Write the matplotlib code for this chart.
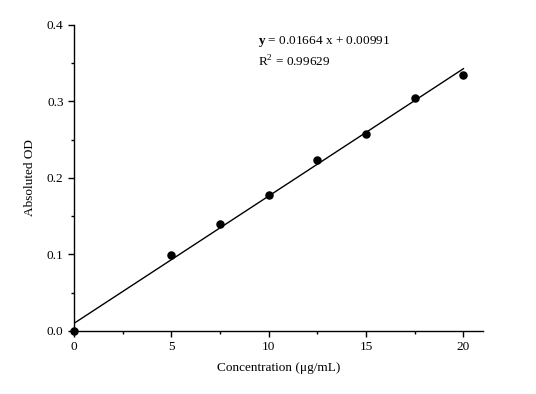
import numpy as np
import matplotlib.pyplot as plt
from matplotlib.ticker import MultipleLocator

# Standard curve data
conc = [0, 5, 7.5, 10, 12.5, 15, 17.5, 20]
od = [0.0, 0.099, 0.140, 0.177, 0.223, 0.258, 0.304, 0.334]

# Linear fit reported on the chart
slope = 0.01664
intercept = 0.00991
r2 = 0.99629

plt.rcParams['font.family'] = ['Liberation Serif', 'DejaVu Serif']
plt.rcParams['mathtext.fontset'] = 'custom'
plt.rcParams['mathtext.rm'] = 'Liberation Serif'
plt.rcParams['mathtext.bf'] = 'Liberation Serif:bold'

fig = plt.figure(figsize=(5.36, 3.94), dpi=100)
ax = fig.add_axes([0.138, 0.160, 0.763, 0.777])

ax.scatter(conc, od, s=26, color='black', zorder=5, clip_on=False)
fit_x = np.array([conc[0], conc[-1]])
ax.plot(fit_x, slope * fit_x + intercept, color='black', linewidth=1.0)

ax.set_xlim(0, 21)
ax.set_ylim(0, 0.4)
ax.xaxis.set_major_locator(MultipleLocator(5))
ax.xaxis.set_minor_locator(MultipleLocator(2.5))
ax.yaxis.set_major_locator(MultipleLocator(0.1))
ax.yaxis.set_minor_locator(MultipleLocator(0.05))
ax.yaxis.set_major_formatter(plt.FuncFormatter(lambda v, p: f"{v:.1f}"))

for s in ['top', 'right']:
    ax.spines[s].set_visible(False)
for s in ['left', 'bottom']:
    ax.spines[s].set_linewidth(1.0)
ax.tick_params(which='major', direction='out', length=4, width=1, labelsize=9.5)
ax.tick_params(which='minor', direction='out', length=2.5, width=1)

ax.set_xlabel("Concentration (\u03bcg/mL)", fontsize=9.5, labelpad=6)
ax.set_ylabel("Absoluted OD", fontsize=9.5, labelpad=8)

ax.text(9.45, 0.378, r"$\mathbf{y}$" + f" = {slope:.5f} x + {intercept:.5f}", fontsize=9.5, va='center')
ax.text(9.45, 0.352, r"R$^\mathrm{2}$" + f" = {r2:.5f}", fontsize=9.5, va='center')

fig.savefig("out.png", dpi=100)
